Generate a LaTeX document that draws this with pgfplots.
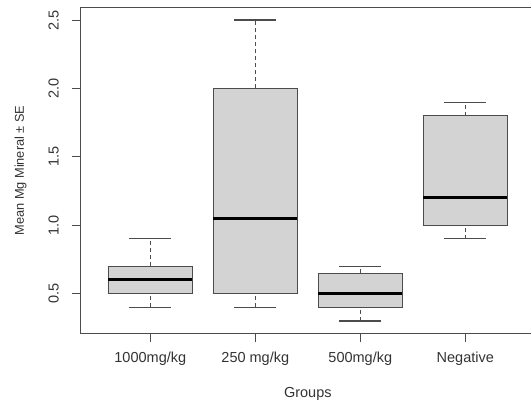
\documentclass[border=0pt]{standalone}
\usepackage{fontspec}
\setmainfont{Liberation Sans}
\usepackage{pgfplots}
\pgfplotsset{compat=1.18}
\usepgfplotslibrary{statistics}
\definecolor{boxfill}{RGB}{211,211,211}
\definecolor{frame}{gray}{0.30}
\definecolor{txt}{gray}{0.20}

\pgfplotsset{
  rbox/.style={
    boxplot/draw direction=y,
    boxplot/box extend=0.8,
    boxplot/whisker extend=0.4,
    boxplot/every box/.style={fill=boxfill, draw=frame, line width=1.1pt},
    boxplot/every median/.style={draw=black, line width=3pt},
    boxplot/draw/lower whisker/.code={%
      \draw[draw=frame, line width=1.1pt, dash pattern=on 4pt off 3pt]
        (boxplot cs:\pgfplotsboxplotvalue{lower whisker})
        -- (boxplot cs:\pgfplotsboxplotvalue{lower quartile});
      \draw[draw=frame, line width=1.1pt]
        (boxplot whisker cs:\pgfplotsboxplotvalue{lower whisker},0)
        -- (boxplot whisker cs:\pgfplotsboxplotvalue{lower whisker},1);
    },
    boxplot/draw/upper whisker/.code={%
      \draw[draw=frame, line width=1.1pt, dash pattern=on 4pt off 3pt]
        (boxplot cs:\pgfplotsboxplotvalue{upper quartile})
        -- (boxplot cs:\pgfplotsboxplotvalue{upper whisker});
      \draw[draw=frame, line width=1.1pt]
        (boxplot whisker cs:\pgfplotsboxplotvalue{upper whisker},0)
        -- (boxplot whisker cs:\pgfplotsboxplotvalue{upper whisker},1);
    },
  },
}

\begin{document}
\begin{tikzpicture}
\begin{axis}[
  scale only axis,
  width=453.6pt, height=325pt,
  xmin=0.34, xmax=4.66,
  ymin=0.212, ymax=2.588,
  xtick={1,2,3,4},
  xticklabels={1000mg/kg, 250 mg/kg, 500mg/kg, Negative},
  ytick={0.5,1.0,1.5,2.0,2.5},
  yticklabels={0.5,1.0,1.5,2.0,2.5},
  xtick pos=left, ytick pos=left,
  tick align=outside,
  major tick length=9pt,
  tick style={draw=frame, line width=1pt},
  axis line style={draw=frame, line width=1pt},
  tick label style={font=\fontsize{14.5}{17}\selectfont, text=txt},
  xticklabel style={anchor=base, inner sep=0pt, yshift=-20pt},
  yticklabel style={rotate=90, anchor=south, inner sep=0pt},
  yticklabel shift=13pt,
  xlabel={Groups},
  xlabel style={at={(axis description cs:0.5,0)}, anchor=base, inner sep=0pt,
    yshift=-64pt, font=\fontsize{14.5}{17}\selectfont, text=txt},
  ylabel={Mean Mg Mineral ± SE},
  ylabel style={at={(axis description cs:-0.1257,0.5)}, anchor=base, inner sep=0pt,
    font=\fontsize{12.8}{15}\selectfont, text=txt},
  rbox,
]
\addplot[boxplot prepared={draw position=1, lower whisker=0.4,
  lower quartile=0.5, median=0.6, upper quartile=0.7, upper whisker=0.9}]
  coordinates {};
\addplot[boxplot prepared={draw position=2, lower whisker=0.4,
  lower quartile=0.5, median=1.05, upper quartile=2.0, upper whisker=2.5}]
  coordinates {};
\addplot[boxplot prepared={draw position=3, lower whisker=0.3,
  lower quartile=0.4, median=0.5, upper quartile=0.65, upper whisker=0.7}]
  coordinates {};
\addplot[boxplot prepared={draw position=4, lower whisker=0.9,
  lower quartile=1.0, median=1.2, upper quartile=1.8, upper whisker=1.9}]
  coordinates {};
\end{axis}
\pgfresetboundingbox
\path[use as bounding box] (-81pt,-69pt) rectangle (450pt,333pt);
\end{tikzpicture}
\end{document}
